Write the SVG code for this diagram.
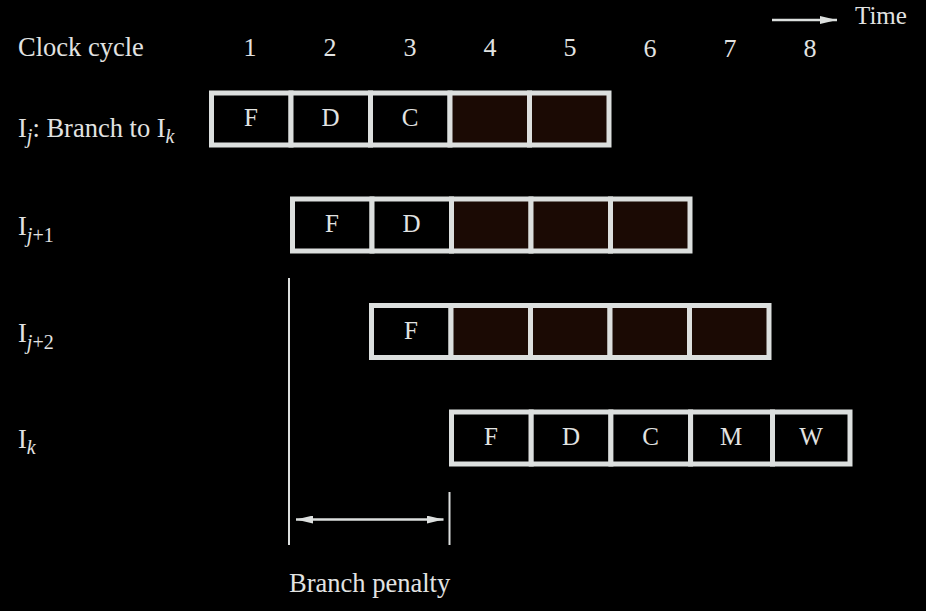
<svg xmlns="http://www.w3.org/2000/svg" width="926" height="611" viewBox="0 0 926 611">
<defs>
<style>
.t{font-family:"Liberation Serif","Times New Roman",serif;font-size:26.5px;fill:#e2e3e2}
.c{text-anchor:middle;font-size:25px}
.n{text-anchor:middle;font-size:26px}
.s{font-style:italic;font-size:20px}
.su{font-size:20px}
.cell{fill:#000;stroke:#dcdfde;stroke-width:5}
.dk{fill:#1b0a04;stroke:#dcdfde;stroke-width:5}
.ln{stroke:#dcdfde;fill:none}
</style>
<marker id="ah" viewBox="0 0 17 8" refX="17" refY="4" markerWidth="17" markerHeight="8" markerUnits="userSpaceOnUse" orient="auto-start-reverse">
<path d="M0,0 L17,4 L0,8 Z" fill="#dcdfde"/>
</marker>
</defs>
<rect width="926" height="611" fill="#000"/>

<g id="header">
<text class="t" x="18" y="56">Clock cycle</text>
<text class="t n" x="250" y="56">1</text>
<text class="t n" x="330" y="56">2</text>
<text class="t n" x="410" y="56">3</text>
<text class="t n" x="490" y="56">4</text>
<text class="t n" x="570" y="56">5</text>
<text class="t n" x="650" y="57">6</text>
<text class="t n" x="730" y="57">7</text>
<text class="t n" x="810" y="57">8</text>
<text class="t" x="855" y="24" style="font-size:25px">Time</text>
</g>

<g id="row-ij">
<text class="t" x="18" y="137">I<tspan class="s" dy="6">j</tspan><tspan dy="-6">: Branch to I</tspan><tspan class="s" dy="6">k</tspan></text>
<rect class="cell" x="211.5" y="93" width="79.5" height="52"/>
<rect class="cell" x="291" y="93" width="79.5" height="52"/>
<rect class="cell" x="370.5" y="93" width="79.5" height="52"/>
<rect class="dk" x="450" y="93" width="79.5" height="52"/>
<rect class="dk" x="529.5" y="93" width="79.5" height="52"/>
<text class="t c" x="251" y="126">F</text>
<text class="t c" x="330.5" y="126">D</text>
<text class="t c" x="410" y="126">C</text>
</g>

<g id="row-ij1">
<text class="t" x="18" y="235">I<tspan class="s" dy="7">j</tspan><tspan class="su">+1</tspan></text>
<rect class="cell" x="292.5" y="199" width="79.5" height="52"/>
<rect class="cell" x="372" y="199" width="79.5" height="52"/>
<rect class="dk" x="451.5" y="199" width="79.5" height="52"/>
<rect class="dk" x="531" y="199" width="79.5" height="52"/>
<rect class="dk" x="610.5" y="199" width="79.5" height="52"/>
<text class="t c" x="332" y="232">F</text>
<text class="t c" x="411.5" y="232">D</text>
</g>

<g id="row-ij2">
<text class="t" x="18" y="342">I<tspan class="s" dy="7">j</tspan><tspan class="su">+2</tspan></text>
<rect class="cell" x="371.5" y="305.5" width="79.5" height="52"/>
<rect class="dk" x="451" y="305.5" width="79.5" height="52"/>
<rect class="dk" x="530.5" y="305.5" width="79.5" height="52"/>
<rect class="dk" x="610" y="305.5" width="79.5" height="52"/>
<rect class="dk" x="689.5" y="305.5" width="79.5" height="52"/>
<text class="t c" x="411" y="338.5">F</text>
</g>

<g id="row-ik">
<text class="t" x="18" y="448">I<tspan class="s" dy="6">k</tspan></text>
<rect class="cell" x="451.5" y="412" width="79.7" height="52"/>
<rect class="cell" x="531.2" y="412" width="79.7" height="52"/>
<rect class="cell" x="610.9" y="412" width="79.7" height="52"/>
<rect class="cell" x="690.6" y="412" width="81.9" height="52"/>
<rect class="cell" x="772.5" y="412" width="77.5" height="52"/>
<text class="t c" x="491" y="445">F</text>
<text class="t c" x="571" y="445">D</text>
<text class="t c" x="650.5" y="445">C</text>
<text class="t c" x="731" y="445">M</text>
<text class="t c" x="811" y="445">W</text>
</g>

<g id="penalty-label">
<text class="t" x="289" y="592">Branch penalty</text>
</g>

<g id="connectors">
<line class="ln" x1="772" y1="20" x2="837" y2="20" stroke-width="2.5" marker-end="url(#ah)"/>
<line class="ln" x1="289" y1="278" x2="289" y2="545" stroke-width="2"/>
<line class="ln" x1="449.5" y1="492" x2="449.5" y2="545" stroke-width="2"/>
<line class="ln" x1="296" y1="519.5" x2="443.5" y2="519.5" stroke-width="2.6" marker-start="url(#ah)" marker-end="url(#ah)"/>
</g>
</svg>
